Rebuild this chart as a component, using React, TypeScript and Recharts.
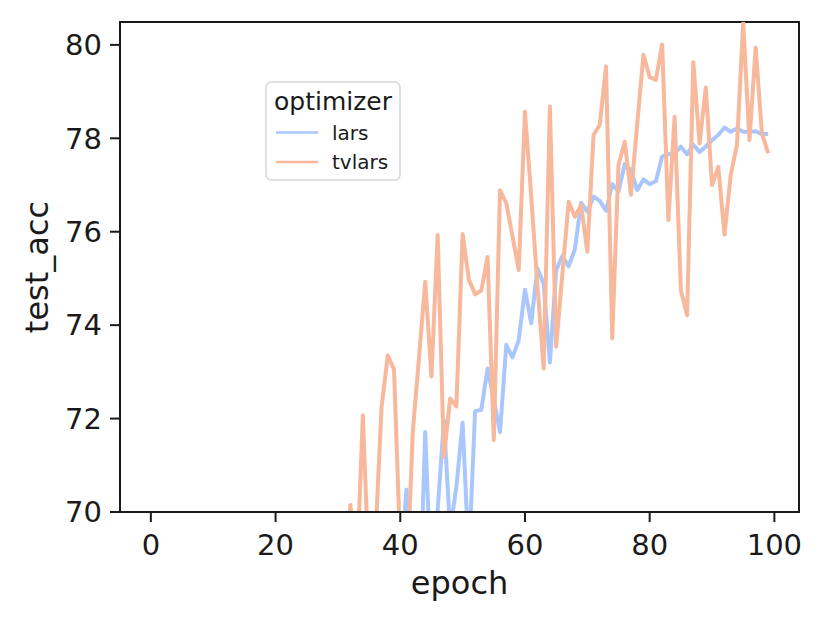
import { Line, LineChart, ReferenceArea, XAxis, YAxis } from "recharts"

// epochs 0..99, values below 70 are cut off by the axis, so only the visible tail is read
const epochs = Array.from({ length: 100 }, (_, i) => i)

const larsTail = [
  68.87, 70.48, 69.28, 67.4, 71.71, 68.3, 70.05, 71.96, 69.6, 70.54,
  71.91, 69.0, 72.16, 72.19, 73.07, 72.4, 71.71, 73.58, 73.31, 73.68,
  74.76, 74.04, 75.22, 74.88, 73.2, 75.18, 75.48, 75.26, 75.62, 76.62,
  76.43, 76.75, 76.66, 76.45, 77.02, 76.86, 77.45, 77.32, 76.89, 77.12,
  77.02, 77.08, 77.61, 77.66, 77.68, 77.82, 77.66, 77.86, 77.71, 77.82,
  77.96, 78.07, 78.23, 78.14, 78.21, 78.14, 78.14, 78.15, 78.09, 78.09,
] // epochs 40..99

const tvlarsTail = [
  68.5, 70.15, 68.6, 72.07, 68.6, 69.4, 72.25, 73.35, 73.05,
  69.2, 68.3, 71.7, 73.3, 74.93, 72.9, 75.93, 71.18, 72.43, 72.26,
  75.95, 74.98, 74.66, 74.74, 75.46, 71.54, 76.89, 76.61, 75.9, 75.18,
  78.57, 76.75, 74.85, 73.07, 78.68, 73.54, 75.1, 76.64, 76.32, 76.57,
  75.57, 78.07, 78.29, 79.54, 73.72, 77.43, 77.93, 76.79, 78.3, 79.79,
  79.31, 79.25, 80.01, 76.25, 78.46, 74.75, 74.21, 79.63, 77.89, 79.09,
  77.0, 77.39, 75.94, 77.21, 77.86, 80.47, 77.96, 79.94, 78.11, 77.68,
] // epochs 31..99

const xTicks = [0, 20, 40, 60, 80, 100]
const yTicks = [70, 72, 74, 76, 78, 80]

const series = [
  { key: "lars", color: "#aac7fd", tail: larsTail },
  { key: "tvlars", color: "#f7b89c", tail: tvlarsTail },
]

const rows = epochs.map((epoch) => {
  const row: Record<string, number | null> = { epoch }
  series.forEach((s) => {
    const start = epochs.length - s.tail.length
    row[s.key] = epoch >= start ? s.tail[epoch - start] : null
  })
  return row
})

const ink = "#1a1a1a"
const font = "DejaVu Sans"

const XTitle = () => (
  <text x={459.6} y={594} textAnchor="middle" fontSize={32} fontFamily={font} fill={ink}>
    epoch
  </text>
)

const YTitle = () => (
  <text
    x={48}
    y={267}
    transform="rotate(-90 48 267)"
    textAnchor="middle"
    fontSize={32}
    fontFamily={font}
    fill={ink}
  >
    test_acc
  </text>
)

const LegendBox = () => (
  <svg
    width={137}
    height={101}
    style={{ position: "absolute", left: 265, top: 81 }}
  >
    <rect x={1} y={1} width={134} height={98} rx={5} fill="rgba(255,255,255,0.8)" stroke="#d6d6d6" strokeWidth={1.5} />
    <text x={68} y={29} textAnchor="middle" fontSize={25} fontFamily={font} fill={ink}>
      optimizer
    </text>
    {series.map((s, i) => (
      <g key={s.key}>
        <line x1={11} x2={53} y1={51.5 + i * 29.4} y2={51.5 + i * 29.4} stroke={s.color} strokeWidth={2.5} />
        <text x={67} y={59 + i * 29.4} fontSize={20} fontFamily={font} fill={ink}>
          {s.key}
        </text>
      </g>
    ))}
  </svg>
)

export default function App() {
  return (
    <div style={{ position: "absolute", left: 0, top: 0, width: 830, height: 623, background: "#fff" }}>
      <LineChart width={830} height={623} data={rows} margin={{ top: 22, right: 31, bottom: 0, left: 0 }}>
        <XAxis
          dataKey="epoch"
          type="number"
          domain={[-4.95, 103.95]}
          ticks={xTicks}
          interval={0}
          allowDataOverflow
          height={111}
          tickSize={10}
          tickMargin={12}
          axisLine={{ stroke: ink, strokeWidth: 2 }}
          tickLine={{ stroke: ink, strokeWidth: 2 }}
          tick={{ fill: ink, fontSize: 29, fontFamily: font }}
          label={<XTitle />}
        />
        <YAxis
          type="number"
          domain={[70, 80.49]}
          ticks={yTicks}
          interval={0}
          allowDataOverflow
          width={120}
          tickSize={10}
          tickMargin={8}
          axisLine={{ stroke: ink, strokeWidth: 2 }}
          tickLine={{ stroke: ink, strokeWidth: 2 }}
          tick={{ fill: ink, fontSize: 29, fontFamily: font }}
          label={<YTitle />}
        />
        <ReferenceArea x1={-4.95} x2={103.95} y1={70} y2={80.49} fill="none" stroke={ink} strokeWidth={2} />
        {series.map((s) => (
          <Line
            key={s.key}
            dataKey={s.key}
            stroke={s.color}
            strokeWidth={4}
            style={{ strokeWidth: 4 }}
            strokeLinejoin="round"
            dot={false}
            activeDot={false}
            isAnimationActive={false}
          />
        ))}
      </LineChart>
      <LegendBox />
    </div>
  )
}
